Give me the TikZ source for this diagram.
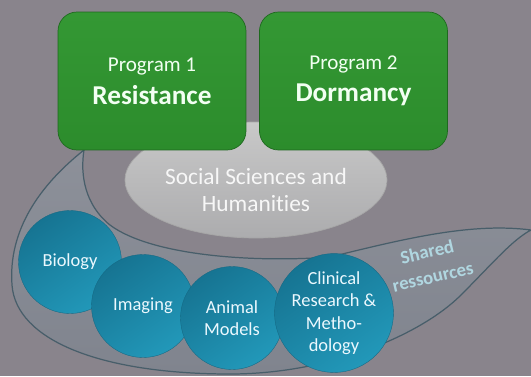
\documentclass[tikz,border=0pt]{standalone}
\usepackage{fontspec}
\setmainfont{Carlito}[Ligatures=NoCommon]
\usetikzlibrary{shapes.geometric}

\definecolor{bgGray}{RGB}{137,132,140}
\definecolor{progGreen}{RGB}{44,140,44}
\definecolor{progGreenTop}{RGB}{52,152,52}
\definecolor{progEdge}{RGB}{30,105,30}
\definecolor{sshLight}{RGB}{200,200,200}
\definecolor{sshDark}{RGB}{172,172,174}
\definecolor{leafFill}{RGB}{128,132,142}
\definecolor{leafEdge}{RGB}{72,94,106}
\definecolor{tealDark}{RGB}{22,116,146}
\definecolor{tealLight}{RGB}{34,152,185}
\definecolor{sharedText}{RGB}{176,214,224}

\begin{document}
\begin{tikzpicture}[x=0.02cm, y=-0.02cm,
	progbox/.style={draw=progEdge, rounded corners=0.38cm, top color=progGreenTop,
		bottom color=progGreen, minimum width=3.76cm, minimum height=2.76cm,
		align=center, text=white!95!green},
	sshell/.style={ellipse, draw=gray!70, top color=sshLight, bottom color=sshDark,
		minimum width=5.24cm, minimum height=2.32cm},
	rescircle/.style={circle, draw=tealDark!90!black, line width=0.2pt,
		top color=tealDark, bottom color=tealLight, shading angle=35,
		minimum size=2.06cm, inner sep=0pt, align=center, text=white!92!cyan,
		font=\fontsize{10.5}{12.8}\selectfont}]
	
	% background
	\fill[bgGray] (0,0) rectangle (531,376);
	\useasboundingbox (0,0) rectangle (531,376);
	
	% shared ressources leaf
	\draw[leafEdge, line width=0.7pt, top color=leafFill!90!white, bottom color=leafFill]
		(84,150) .. controls (40,185) and (8,230) .. (12,285)
		.. controls (16,340) and (100,374) .. (230,374)
		.. controls (330,374) and (420,335) .. (460,296)
		.. controls (492,264) and (512,240) .. (531,230)
		.. controls (470,222) and (400,240) .. (330,257)
		.. controls (250,263) and (150,255) .. (110,225)
		.. controls (85,205) and (80,175) .. (84,150) -- cycle;
	
	% social sciences
	\node[sshell] (ssh) at (256,180) {};
	\node[align=center, text=white!94!gray, font=\fontsize{13.3}{15.3}\selectfont]
		(sshtext) at (256,190) {Social Sciences and\\Humanities};
	
	% programs
	\node[progbox] (prog1) at (152,81)
		{{\fontsize{12}{14}\selectfont Program 1}\\[5pt]
		{\fontsize{15.5}{18}\selectfont\bfseries Resistance}};
	\node[progbox] (prog2) at (353.5,81)
		{{\fontsize{12}{14}\selectfont Program 2}\\[5pt]
		{\fontsize{15.5}{18}\selectfont\bfseries Dormancy}};
	
	% platforms
	\node[rescircle] (bio) at (70,262) {Biology};
	\node[rescircle] (img) at (143,306) {Imaging};
	\node[rescircle] (anim) at (232,318) {Animal\\Models};
	\node[rescircle] (clin) at (334,313) {Clinical\\Research \&\\Metho-\\dology};
	
	\node[rotate=13, align=center, text=sharedText,
		font=\fontsize{10.7}{14.5}\selectfont\bfseries]
		(shared) at (430,264) {Shared\\ressources};
	
\end{tikzpicture}
\end{document}
